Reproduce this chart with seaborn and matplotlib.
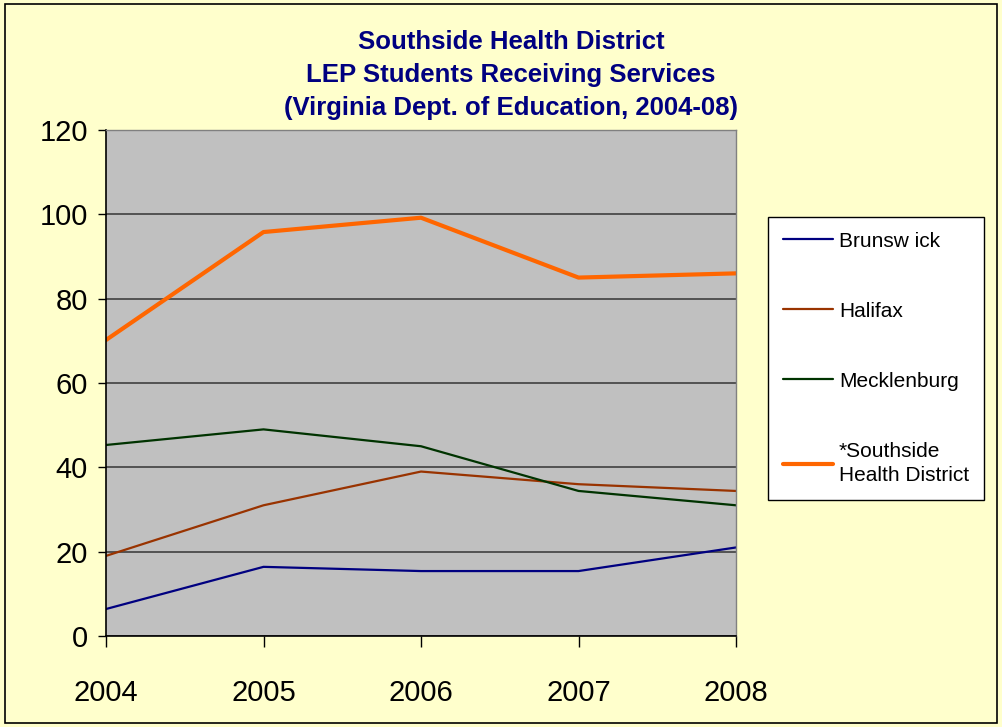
import matplotlib
matplotlib.use("Agg")
import matplotlib.pyplot as plt
import seaborn as sns
import pandas as pd
from matplotlib.patches import Rectangle

years = [2004, 2005, 2006, 2007, 2008]
brunswick = [6.4, 16.4, 15.4, 15.4, 21]
halifax = [19, 31, 39, 36, 34.4]
mecklenburg = [45.3, 49, 45, 34.4, 31]
southside = [70.2, 95.8, 99.2, 85, 86]
series_names = ["Brunswick", "Halifax", "Mecklenburg", "*Southside\nHealth District"]
legend_labels = ["Brunsw ick", "Halifax", "Mecklenburg", "*Southside\nHealth District"]
colors = ["#000080", "#993300", "#003300", "#FF6600"]
title_lines = ["Southside Health District", "LEP Students Receiving Services",
               "(Virginia Dept. of Education, 2004-08)"]
y_ticks = [0, 20, 40, 60, 80, 100, 120]

rows = []
for name, vals in zip(series_names, [brunswick, halifax, mecklenburg, southside]):
    for y, v in zip(years, vals):
        rows.append({"Year": y, "Value": v, "Series": name})
df = pd.DataFrame(rows)

sns.set_style("white")
plt.rcParams["font.family"] = ["Liberation Sans", "DejaVu Sans"]
plt.rcParams["text.color"] = "#000000"
plt.rcParams["xtick.color"] = "#000000"
plt.rcParams["ytick.color"] = "#000000"

fig = plt.figure(figsize=(10.02, 7.27), dpi=100, facecolor="#FFFFCC")
fig.patches.append(Rectangle((0.005, 0.006), 0.99, 0.988, transform=fig.transFigure,
                             fill=False, edgecolor="#000000", linewidth=1.2))
ax = fig.add_axes([106/1002, 1-636/727, (736-106)/1002, (636-130)/727])
ax.set_facecolor("#C0C0C0")

sns.lineplot(data=df, x="Year", y="Value", hue="Series", hue_order=series_names,
             palette=dict(zip(series_names, colors)), size="Series",
             sizes=dict(zip(series_names, [1.6, 1.6, 1.6, 3.0])),
             ax=ax, legend=False)

ax.set_xlim(2004, 2008)
ax.set_ylim(0, 120)
ax.set_yticks(y_ticks)
ax.set_xticks(years)
ax.set_xticklabels([str(y) for y in years])
ax.grid(axis="y", color="#404040", linewidth=1.2)
ax.set_axisbelow(True)
ax.set_xlabel("")
ax.set_ylabel("")
ax.tick_params(axis="y", length=6, width=1, direction="out", labelsize=21, pad=7,
               left=True, colors="#000000")
ax.tick_params(axis="x", length=8, width=1, direction="out", labelsize=21, pad=23,
               bottom=True, colors="#000000")
for s in ["left", "bottom"]:
    ax.spines[s].set_color("#000000")
    ax.spines[s].set_linewidth(1.2)
for s in ["top", "right"]:
    ax.spines[s].set_color("#808080")
    ax.spines[s].set_linewidth(1.0)

for i, ypix in enumerate([42, 75, 108]):
    fig.text(0.51, 1-ypix/727, title_lines[i], ha="center", va="center", fontsize=18.5,
             fontweight="bold", color="#000080")

handles = [plt.Line2D([], [], color=c, linewidth=(3.0 if i == 3 else 1.6))
           for i, c in enumerate(colors)]
leg = fig.legend(handles, legend_labels, loc="upper left",
                 bbox_to_anchor=(768/1002, 1-217/727), fontsize=15,
                 frameon=True, fancybox=False, edgecolor="#000000",
                 facecolor="#FFFFFF", framealpha=1, labelspacing=2.45,
                 handlelength=2.4, handletextpad=0.3, borderpad=0.7,
                 borderaxespad=0, labelcolor="#000000")
leg.get_texts()[3].set_linespacing(1.35)
leg.get_frame().set_linewidth(1.0)

fig.savefig("out.png", dpi=100, facecolor=fig.get_facecolor())
